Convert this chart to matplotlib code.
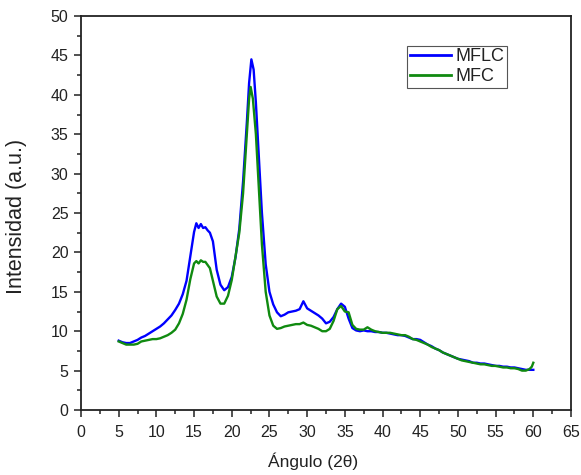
import matplotlib
matplotlib.use("Agg")
import matplotlib.pyplot as plt
from matplotlib.ticker import MultipleLocator

plt.rcParams['font.family'] = ['Liberation Sans', 'DejaVu Sans']

# MFLC (blue)
angle_mflc = [5.0, 5.5, 6.0, 6.5, 7.0, 7.5, 8.0, 8.5, 9.0, 9.5, 10.0, 10.5, 11.0, 11.5, 12.0, 12.5,
              13.0, 13.5, 14.0, 14.5, 15.0, 15.3, 15.6, 15.9, 16.2, 16.5, 16.8, 17.1, 17.5, 18.0, 18.5,
              19.0, 19.5, 20.0, 20.5, 21.0, 21.5, 22.0, 22.3, 22.6, 22.9, 23.2, 23.6, 24.0, 24.5,
              25.0, 25.5, 26.0, 26.5, 27.0, 27.5, 28.0, 28.5, 29.0, 29.5, 30.0, 30.5, 31.0, 31.5,
              32.0, 32.5, 33.0, 33.5, 34.0, 34.5, 35.0, 35.5, 36.0, 36.5, 37.0, 37.5, 38.0, 38.5,
              39.0, 39.5, 40.0, 40.5, 41.0, 41.5, 42.0, 42.5, 43.0, 43.5, 44.0, 44.5, 45.0, 45.5,
              46.0, 46.5, 47.0, 47.5, 48.0, 48.5, 49.0, 49.5, 50.0, 50.5, 51.0, 51.5, 52.0, 52.5,
              53.0, 53.5, 54.0, 54.5, 55.0, 55.5, 56.0, 56.5, 57.0, 57.5, 58.0, 58.5, 59.0, 59.5, 60.0]
int_mflc = [8.8, 8.6, 8.5, 8.5, 8.7, 8.9, 9.2, 9.4, 9.7, 10.0, 10.3, 10.6, 11.0, 11.5, 12.0, 12.7,
            13.5, 14.7, 16.4, 19.5, 22.6, 23.7, 23.1, 23.6, 23.1, 23.2, 22.8, 22.5, 21.4, 17.8, 15.9,
            15.2, 15.6, 16.9, 19.4, 23.0, 29.0, 36.5, 41.5, 44.5, 43.2, 39.0, 32.0, 25.0, 18.5,
            15.0, 13.4, 12.4, 11.9, 12.1, 12.4, 12.5, 12.6, 12.8, 13.8, 12.9, 12.6, 12.3, 12.0,
            11.6, 11.0, 11.2, 11.8, 12.8, 13.5, 13.1, 11.6, 10.4, 10.1, 10.0, 10.1, 10.0, 10.0,
            9.9, 9.9, 9.8, 9.8, 9.7, 9.6, 9.5, 9.5, 9.4, 9.2, 9.0, 9.0, 8.9, 8.6,
            8.3, 8.1, 7.8, 7.6, 7.3, 7.1, 6.9, 6.7, 6.5, 6.4, 6.3, 6.2, 6.0, 6.0,
            5.9, 5.9, 5.8, 5.7, 5.6, 5.6, 5.5, 5.5, 5.4, 5.4, 5.3, 5.2, 5.1, 5.1, 5.1]

# MFC (green)
angle_mfc = [5.0, 5.5, 6.0, 6.5, 7.0, 7.5, 8.0, 8.5, 9.0, 9.5, 10.0, 10.5, 11.0, 11.5, 12.0, 12.5,
             13.0, 13.5, 14.0, 14.5, 15.0, 15.3, 15.6, 15.9, 16.2, 16.5, 16.8, 17.1, 17.5, 18.0, 18.5,
             19.0, 19.5, 20.0, 20.5, 21.0, 21.5, 22.0, 22.3, 22.5, 22.8, 23.2, 23.6, 24.0, 24.5,
             25.0, 25.5, 26.0, 26.5, 27.0, 27.5, 28.0, 28.5, 29.0, 29.5, 30.0, 30.5, 31.0, 31.5,
             32.0, 32.5, 33.0, 33.5, 34.0, 34.5, 35.0, 35.5, 36.0, 36.5, 37.0, 37.5, 38.0, 38.5,
             39.0, 39.5, 40.0, 40.5, 41.0, 41.5, 42.0, 42.5, 43.0, 43.5, 44.0, 44.5, 45.0, 45.5,
             46.0, 46.5, 47.0, 47.5, 48.0, 48.5, 49.0, 49.5, 50.0, 50.5, 51.0, 51.5, 52.0, 52.5,
             53.0, 53.5, 54.0, 54.5, 55.0, 55.5, 56.0, 56.5, 57.0, 57.5, 58.0, 58.5, 59.0, 59.5, 59.8, 60.0]
int_mfc = [8.7, 8.5, 8.3, 8.3, 8.3, 8.4, 8.7, 8.8, 8.9, 9.0, 9.0, 9.1, 9.3, 9.5, 9.8, 10.2,
           11.0, 12.2, 14.0, 16.6, 18.6, 18.9, 18.6, 19.0, 18.8, 18.8, 18.4, 18.0, 16.4, 14.4, 13.5,
           13.5, 14.5, 16.5, 19.5, 22.5, 27.5, 35.0, 39.5, 41.0, 39.5, 35.0, 28.0, 21.0, 15.0,
           12.0, 10.7, 10.3, 10.4, 10.6, 10.7, 10.8, 10.9, 10.9, 11.1, 10.8, 10.7, 10.5, 10.3,
           10.0, 10.0, 10.3, 11.3, 12.8, 13.2, 12.5, 12.4, 10.8, 10.3, 10.2, 10.2, 10.5, 10.2,
           10.0, 9.9, 9.8, 9.8, 9.8, 9.7, 9.6, 9.5, 9.5, 9.3, 9.0, 8.9, 8.7, 8.5,
           8.3, 8.0, 7.8, 7.6, 7.3, 7.1, 6.9, 6.7, 6.5, 6.3, 6.2, 6.1, 6.0, 5.9,
           5.8, 5.8, 5.7, 5.6, 5.6, 5.5, 5.4, 5.4, 5.3, 5.3, 5.2, 5.0, 5.0, 5.2, 5.5, 6.0]

fig = plt.figure(figsize=(5.81, 4.75), dpi=100)
ax = fig.add_axes([0.1394, 0.1368, 0.8434, 0.8295])

ax.plot(angle_mflc, int_mflc, color='#0000ff', lw=1.7, label='MFLC')
ax.plot(angle_mfc, int_mfc, color='#108a10', lw=1.7, label='MFC')

ax.set_xlim(0, 65)
ax.set_ylim(0, 50)
ax.xaxis.set_major_locator(MultipleLocator(5))
ax.xaxis.set_minor_locator(MultipleLocator(2.5))
ax.yaxis.set_major_locator(MultipleLocator(5))
ax.yaxis.set_minor_locator(MultipleLocator(2.5))
ax.tick_params(which='both', direction='out', top=False, right=False, labelsize=11.5,
               colors='#222222', width=1.1)
ax.tick_params(which='major', length=5)
ax.tick_params(axis='x', which='major', pad=6)
ax.tick_params(axis='y', which='major', pad=4)
ax.tick_params(which='minor', length=3)
for s in ax.spines.values():
    s.set_linewidth(1.3)
    s.set_color('#222222')

ax.set_xlabel('Ángulo (2θ)', fontsize=12.5, color='#222222')
ax.set_ylabel('Intensidad (a.u.)', fontsize=15.5, color='#222222')
ax.xaxis.set_label_coords(0.473, -0.1066)
ax.yaxis.set_label_coords(-0.110, 0.492)

leg = ax.legend(loc='upper left', bbox_to_anchor=(0.665, 0.925), fontsize=13,
                frameon=True, fancybox=False, edgecolor='#555555', framealpha=1,
                handlelength=2.3, handletextpad=0.25, borderpad=0.15, labelspacing=0.15,
                borderaxespad=0)
leg.get_frame().set_linewidth(0.8)
for line in leg.get_lines():
    line.set_linewidth(2)
for t in leg.get_texts():
    t.set_color('#222222')

fig.savefig('out.png', dpi=100)
